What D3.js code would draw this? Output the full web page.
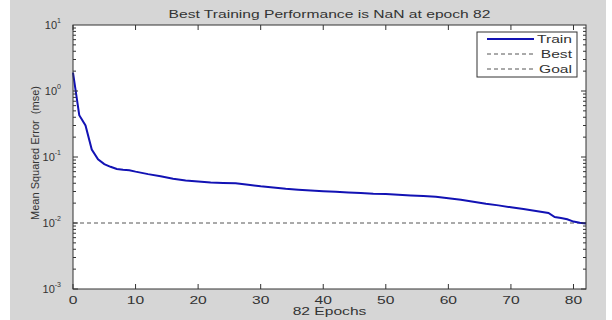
<!DOCTYPE html>
<html>
<head>
<meta charset="utf-8">
<script src="https://cdn.jsdelivr.net/npm/d3@7"></script>
<style>
  html, body { margin: 0; padding: 0; background: #fff; }
  svg { display: block; font-family: "Liberation Sans", Arial, sans-serif; }
</style>
</head>
<body>
<div id="chart"></div>
<script>
// Training record (epoch, mse)
const epochs = [0, 1, 2, 3, 4, 5, 6, 7, 8, 9, 10, 12, 14, 16, 18, 20, 22, 24, 26, 28, 30,
  32, 34, 36, 38, 40, 42, 44, 46, 48, 50, 52, 54, 56, 58, 60, 62, 64, 66, 68, 70,
  72, 74, 76, 77, 78, 79, 80, 81, 82];
const trainMse = [1.9, 0.43, 0.30, 0.13, 0.092, 0.078, 0.071, 0.066, 0.064, 0.063, 0.060,
  0.055, 0.051, 0.047, 0.044, 0.0425, 0.041, 0.0405, 0.040, 0.038, 0.036,
  0.0345, 0.033, 0.032, 0.031, 0.0302, 0.0297, 0.029, 0.0284, 0.0278, 0.0275,
  0.0268, 0.0262, 0.0256, 0.025, 0.0238, 0.0225, 0.021, 0.0196, 0.0185, 0.0173,
  0.0163, 0.0152, 0.0142, 0.0123, 0.0119, 0.0114, 0.0105, 0.0101, 0.0098];
const goal = 0.01;
const xTicks = [0, 10, 20, 30, 40, 50, 60, 70, 80];
const yExponents = [1, 0, -1, -2, -3];
const legendItems = ["Train", "Best", "Goal"];
const titleText = "Best Training Performance is NaN at epoch 82";
const xLabel = "82 Epochs";
const yLabel = "Mean Squared Error  (mse)";

const W = 612, H = 320;
const margin = { top: 25, right: 26, bottom: 31, left: 73 };
const width = W - margin.left - margin.right;
const height = H - margin.top - margin.bottom;
const stretch = 1.42;   // horizontal text in the source is widened
const ink = '#333';
const blue = '#1212b4';

const svg = d3.select('#chart').append('svg')
  .attr('width', W)
  .attr('height', H);

// text drawn at (x,y), widened like the source
function label(parent, x, y, str, size, anchor, sx) {
  return parent.append('text')
    .attr('transform', `translate(${x},${y}) scale(${sx || stretch},1)`)
    .attr('text-anchor', anchor || 'middle')
    .attr('font-size', size)
    .attr('fill', ink)
    .text(str);
}

// grey figure background
svg.append('rect')
  .attr('x', 10).attr('y', 0)
  .attr('width', W - 16).attr('height', H)
  .attr('fill', '#d6d6d6');

const g = svg.append('g')
  .attr('transform', `translate(${margin.left},${margin.top})`);

// Scales
const x = d3.scaleLinear().domain([0, 82]).range([0, width]);
const y = d3.scaleLog().domain([1e-3, 10]).range([height, 0]);

g.append('rect')
  .attr('width', width).attr('height', height)
  .attr('fill', '#fff');

// Goal line
g.append('line')
  .attr('x1', x(0)).attr('x2', x(82))
  .attr('y1', y(goal)).attr('y2', y(goal))
  .attr('stroke', '#555')
  .attr('stroke-width', 1)
  .attr('stroke-dasharray', '4,3');

// Train line
const line = d3.line()
  .x((d, i) => x(epochs[i]))
  .y(d => y(d));

g.append('path')
  .datum(trainMse)
  .attr('fill', 'none')
  .attr('stroke', blue)
  .attr('stroke-width', 2)
  .attr('d', line);

// Ticks inward, on all four sides
xTicks.forEach(t => {
  g.append('line').attr('x1', x(t)).attr('x2', x(t))
    .attr('y1', height).attr('y2', height - 5).attr('stroke', ink);
  g.append('line').attr('x1', x(t)).attr('x2', x(t))
    .attr('y1', 0).attr('y2', 5).attr('stroke', ink);
  label(g, x(t), height + 15, t, 11);
});

for (let e = -3; e < 1; e++) {
  for (let m = 1; m <= 9; m++) {
    const v = m * Math.pow(10, e);
    const len = m === 1 ? 5 : 3;
    g.append('line').attr('x1', 0).attr('x2', len)
      .attr('y1', y(v)).attr('y2', y(v)).attr('stroke', ink);
    g.append('line').attr('x1', width).attr('x2', width - len)
      .attr('y1', y(v)).attr('y2', y(v)).attr('stroke', ink);
  }
}

yExponents.forEach(e => {
  const t = label(g, -12, y(Math.pow(10, e)) + 4, null, 11, 'end', 1);
  t.append('tspan').text('10');
  t.append('tspan').attr('dy', -6).attr('font-size', 7).text(e);
});

// Axis box
g.append('rect')
  .attr('width', width).attr('height', height)
  .attr('fill', 'none')
  .attr('stroke', ink)
  .attr('stroke-width', 1);

// Labels
label(svg, margin.left + width / 2, 18, titleText, 11);
label(svg, margin.left + width / 2, 315, xLabel, 11);

svg.append('text')
  .attr('transform', `translate(39,${margin.top + height / 2 - 4}) rotate(-90)`)
  .attr('text-anchor', 'middle')
  .attr('font-size', 11)
  .attr('fill', ink)
  .style('white-space', 'pre')
  .text(yLabel);

// Legend
const legend = svg.append('g').attr('transform', 'translate(477,32)');
legend.append('rect')
  .attr('width', 100).attr('height', 45)
  .attr('fill', '#fff')
  .attr('stroke', ink);

legendItems.forEach((name, i) => {
  const ly = 7 + i * 15;
  legend.append('line')
    .attr('x1', 10).attr('x2', 57)
    .attr('y1', ly).attr('y2', ly)
    .attr('stroke', i === 0 ? blue : '#555')
    .attr('stroke-width', i === 0 ? 2 : 1)
    .attr('stroke-dasharray', i === 0 ? null : '4,3');
  label(legend, 95, ly + 4, name, 11, 'end');
});
</script>
</body>
</html>
